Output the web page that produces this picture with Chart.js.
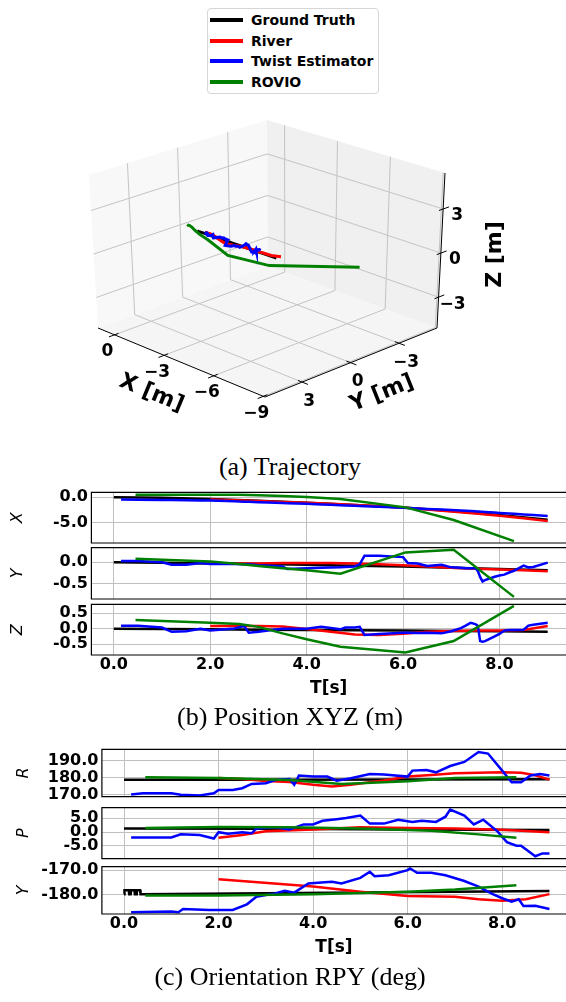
<!DOCTYPE html>
<html>
<head>
<meta charset="utf-8">
<script src="https://cdn.jsdelivr.net/npm/chart.js@4.4.1/dist/chart.umd.min.js"></script>
<style>
  body { margin: 0; background: #fff; width: 566px; height: 1002px; position: relative; overflow: hidden; }
  canvas { position: absolute; left: 0; }
  .cap { position: absolute; left: 0; width: 580px; text-align: center; font: 26px "Liberation Serif", serif; line-height: 30px; }
  #legend { position: absolute; left: 207px; top: 8px; width: 172px; height: 86px; border: 1px solid #d6d6d6; border-radius: 4px; box-sizing: border-box; }
  .row { position: absolute; left: 0; height: 20px; font: bold 14px "DejaVu Sans", sans-serif; line-height: 20px; }
  .row i { position: absolute; left: 2px; top: 8px; width: 33px; height: 4px; }
  .row span { position: absolute; left: 43px; white-space: nowrap; }
</style>
</head>
<body>
<div id="legend"></div>
<canvas id="traj" width="566" height="345" style="top:95px"></canvas>
<div class="cap" style="top:452px">(a) Trajectory</div>
<canvas id="pX" width="566" height="59" style="top:488px"></canvas>
<canvas id="pY" width="566" height="59" style="top:544px"></canvas>
<canvas id="pZ" width="566" height="100" style="top:600px"></canvas>
<div class="cap" style="top:702px">(b) Position XYZ (m)</div>
<canvas id="oR" width="566" height="56" style="top:745px"></canvas>
<canvas id="oP" width="566" height="57" style="top:803px"></canvas>
<canvas id="oY" width="566" height="97" style="top:862px"></canvas>
<div class="cap" style="top:962px">(c) Orientation RPY (deg)</div>
<script>
const SERIES = ['Ground Truth', 'River', 'Twist Estimator', 'ROVIO'];
const COLORS = ['#000000', '#ff0000', '#0000ff', '#008000'];
const T_TICKS = [0, 2, 4, 6, 8];

// position, one time base per method
const T_GT = [0, 1, 2, 3, 4, 5, 6, 7, 8, 9];
const X_GT = [0, -0.1, -0.35, -0.7, -1.1, -1.55, -2.05, -2.7, -3.5, -4.45];
const Y_GT = [0, -0.01, -0.03, -0.04, -0.06, -0.08, -0.1, -0.13, -0.16, -0.19];
const Z_GT = [0, -0.01, -0.02, -0.03, -0.04, -0.05, -0.06, -0.07, -0.08, -0.1];

const T_RV = [2, 2.5, 3, 3.5, 4, 4.5, 5, 5.5, 6, 6.5, 7, 7.5, 8, 8.5, 9];
const X_RV = [-0.45, -0.6, -0.75, -0.92, -1.1, -1.3, -1.52, -1.78, -2.05, -2.4, -2.8, -3.2, -3.65, -4.15, -4.7];
const Y_RV = [-0.03, -0.03, -0.03, -0.02, -0.02, -0.02, -0.03, -0.05, -0.07, -0.1, -0.13, -0.15, -0.17, -0.19, -0.21];
const Z_RV = [0.09, 0.09, 0.09, 0.07, -0.01, -0.1, -0.19, -0.2, -0.16, -0.1, -0.07, -0.06, -0.06, -0.04, 0.09];

const T_TW = [0.15, 0.5, 1.0, 1.2, 1.5, 1.8, 2.0, 2.5, 2.7, 2.8, 3.0, 3.2, 3.5, 3.6, 4.0, 4.3, 4.5, 4.7, 4.8, 5.0,
  5.1, 5.2, 5.5, 6.0, 6.1, 6.3, 6.5, 6.8, 7.0, 7.2, 7.3, 7.4, 7.5, 7.55, 7.6, 7.65, 7.7, 7.9, 8.0, 8.1,
  8.2, 8.3, 8.5, 8.6, 8.7, 9.0];
const X_TW = [-0.46, -0.49, -0.53, -0.55, -0.58, -0.63, -0.66, -0.8, -0.87, -0.9, -0.97, -1.03, -1.13, -1.17, -1.3,
  -1.42, -1.5, -1.58, -1.62, -1.7, -1.74, -1.78, -1.9, -2.1, -2.14, -2.22, -2.3, -2.42, -2.5, -2.6,
  -2.66, -2.72, -2.78, -2.8, -2.84, -2.86, -2.9, -3.02, -3.1, -3.16, -3.22, -3.28, -3.4, -3.46, -3.52, -3.7];
const Y_TW = [0.03, 0.03, 0, -0.06, -0.06, -0.02, -0.04, -0.04, -0.05, -0.05, -0.07, -0.08, -0.1, -0.16, -0.14,
  -0.13, -0.125, -0.12, -0.11, -0.1, -0.05, 0.15, 0.15, 0.12, -0.02, -0.03, -0.09, -0.06, -0.12, -0.13,
  -0.14, -0.14, -0.14, -0.2, -0.35, -0.45, -0.42, -0.34, -0.31, -0.29, -0.24, -0.2, -0.08, -0.12, -0.11, -0.01];
const Z_TW = [0.1, 0.1, 0.04, -0.1, -0.08, 0, -0.06, 0.01, 0.09, -0.13, -0.1, -0.06, 0, 0, 0,
  0.06, 0.02, -0.02, 0.04, 0.04, 0.06, -0.2, -0.17, -0.13, -0.13, -0.14, -0.13, -0.15, -0.08, 0.02,
  0.1, 0.19, 0.15, 0.1, -0.4, -0.42, -0.4, -0.25, -0.17, -0.06, -0.04, -0.04, -0.03, 0.1, 0.13, 0.19];

const T_RO = [0.45, 2.0, 2.6, 3.0, 3.5, 4.0, 4.7, 6.05, 7.05, 8.3];
const X_RO = [0.5, 0.5, 0.48, 0.4, 0.25, 0.05, -0.35, -2.0, -4.5, -8.7];
const Y_RO = [0.08, 0.02, -0.044, -0.087, -0.14, -0.19, -0.27, 0.23, 0.29, -0.81];
const Z_RO = [0.28, 0.19, 0.15, 0.06, -0.15, -0.34, -0.58, -0.77, -0.4, 0.74];

// orientation (deg)
const T_R_GT = [0, 3, 6, 9];            const R_GT = [179.0, 179.0, 179.1, 179.3];
const T_R_RV = [2, 2.5, 3, 3.5, 4, 4.4, 4.8, 5.2, 5.5, 6, 6.5, 7, 7.5, 8, 8.4, 8.7, 9];
const R_RV = [180, 179.4, 178.2, 177.6, 176, 175, 176, 177.5, 178.5, 180.8, 181.7, 182.7, 183, 183.3, 183, 181.6, 179];
const T_R_TW = [0.15, 0.4, 1.0, 1.2, 1.6, 1.9, 2.0, 2.3, 2.5, 2.7, 3.0, 3.2, 3.5, 3.6, 3.7, 4.0, 4.3, 4.5,
  4.8, 5.2, 5.5, 6.0, 6.1, 6.4, 6.6, 6.9, 7.2, 7.5, 7.7, 8.0, 8.2, 8.4, 8.6, 8.8, 9.0];
const R_TW = [170.3, 171, 171, 170.1, 169.7, 171, 173, 173, 174, 176.5, 176.9, 178.8, 179.4, 176, 181.4, 180.8, 180.8, 178.4,
  179.8, 182.3, 182, 180.8, 184.3, 184.7, 183.3, 187, 189.4, 195.2, 194.3, 184.3, 177.5, 177.5, 181.4, 182.3, 181.4];
const T_R_RO = [0.45, 2.0, 3.5, 4.6, 6.0, 7.0, 8.3];  const R_RO = [180.4, 180, 178.8, 176.5, 178, 180, 180.4];

const T_P_GT = [0, 3, 6, 9];            const P_GT = [1.3, 1.2, 1.0, 0.8];
const T_P_RV = [2, 2.5, 3, 4, 5, 6, 7, 8, 9];  const P_RV = [-2.0, -1.0, 0.3, 1.0, 1.8, 1.5, 1.3, 0.9, 0.0];
const T_P_TW = [0.15, 1.0, 1.2, 1.6, 1.9, 2.0, 2.2, 2.5, 2.7, 2.8, 3.2, 3.5, 3.8, 4.0, 4.2, 4.5, 4.7, 5.0,
  5.2, 5.5, 5.8, 6.1, 6.3, 6.6, 6.8, 6.9, 7.2, 7.4, 7.6, 7.9, 8.1, 8.3, 8.4, 8.7, 8.85, 9.0];
const P_TW = [-1.9, -1.9, -0.8, -1.0, -2.3, 0, -0.6, 0, -0.4, 1.3, 1.8, 1.0, 2.8, 2.8, 4.1, 4.7, 5.1, 6.0,
  3.1, 3.1, 4.5, 3.7, 4.1, 3.7, 5.6, 8.2, 6.0, 2.8, 4.5, 0.3, -3.6, -4.9, -4.9, -8.7, -7.7, -7.7];
const T_P_RO = [0.45, 2, 3.5, 5, 6.5, 7.5, 8.3];  const P_RO = [1.5, 1.9, 1.8, 1.3, 0.5, -0.8, -2.0];

const T_Y_GT = [0, 0.01, 0.1, 0.11, 0.14, 0.15, 0.22, 0.23, 0.26, 0.27, 0.34, 0.35, 9];
const YAW_GT = [-180, -178.3, -178.3, -180, -180, -178.3, -178.3, -180, -180, -178.3, -178.3, -180, -178.6];
const T_Y_RV = [2, 4, 5, 6, 7, 7.5, 8, 8.5, 9];
const YAW_RV = [-173.8, -176.8, -178.9, -180.7, -181, -182, -182.6, -182, -179.9];
const T_Y_TW = [0.15, 1.0, 1.15, 1.25, 1.8, 2.3, 2.6, 2.8, 3.2, 3.4, 3.6, 3.9, 4.1, 4.4, 4.6, 5.0, 5.2, 5.3,
  5.6, 6.0, 6.05, 6.2, 6.5, 6.8, 7.2, 7.5, 7.8, 8.0, 8.2, 8.35, 8.45, 8.7, 9.0];
const YAW_TW = [-187.4, -187.1, -187.4, -186, -186.4, -186.4, -184.1, -181, -179.6, -178.5, -179.3, -175.5, -175.2, -174.8,
  -175.5, -173.2, -170.7, -172.5, -172.1, -170, -169.3, -171.1, -171.1, -172.1, -174.5, -176.8, -179.9, -181.6,
  -183, -182, -184.8, -184.7, -186];
const T_Y_RO = [0.45, 2, 4, 6, 7, 8.3];  const YAW_RO = [-180.5, -180.5, -180, -178.9, -178, -176.2];

// 3D axes
const LIM_X = [1.0, -9.1], LIM_Y = [5.3, -5.35], LIM_Z = [-5.1, 5.45];
const TICKS3_X = [0, -3, -6, -9], TICKS3_Y = [3, 0, -3], TICKS3_Z = [-3, 0, 3];
// page position of the 8 box corners (u: x-limit index, v: y-limit index, w: z-limit index)
const CORNER = {
  '000': [98, 328], '100': [265, 397], '110': [437, 328], '010': [268, 266],
  '001': [89, 175], '101': [266, 234], '111': [445, 173], '011': [267, 120]
};

function proj(X, Y, Z) {
  const u = (X - LIM_X[0]) / (LIM_X[1] - LIM_X[0]);
  const v = (Y - LIM_Y[0]) / (LIM_Y[1] - LIM_Y[0]);
  const w = (Z - LIM_Z[0]) / (LIM_Z[1] - LIM_Z[0]);
  let x = 0, y = 0;
  for (const k in CORNER) {
    const f = (k[0] === '1' ? u : 1 - u) * (k[1] === '1' ? v : 1 - v) * (k[2] === '1' ? w : 1 - w);
    x += f * CORNER[k][0];
    y += f * CORNER[k][1];
  }
  return { x, y };
}

Chart.defaults.font.family = "'DejaVu Sans', sans-serif";
Chart.defaults.color = '#000';

// legend
const leg = document.getElementById('legend');
SERIES.forEach((name, i) => {
  const r = document.createElement('div');
  r.className = 'row';
  r.style.top = (1 + 20.6 * i) + 'px';
  r.innerHTML = '<i style="background:' + COLORS[i] + '"></i><span>' + name + '</span>';
  leg.appendChild(r);
});

// 3D trajectory
const box3d = {
  id: 'box3d',
  beforeDatasetsDraw(c) {
    const g = c.ctx, sx = c.scales.x, sy = c.scales.y;
    const P = (X, Y, Z) => { const p = proj(X, Y, Z); return [sx.getPixelForValue(p.x), sy.getPixelForValue(p.y)]; };
    const [x0, x1] = LIM_X, [y0, y1] = LIM_Y, [z0, z1] = LIM_Z;
    const poly = (pts, fill) => {
      g.beginPath();
      pts.forEach((q, i) => { const p = P(...q); i ? g.lineTo(p[0], p[1]) : g.moveTo(p[0], p[1]); });
      g.closePath(); g.fillStyle = fill; g.fill();
    };
    const seg = (a, b, col, w) => {
      const p = P(...a), q = P(...b);
      g.beginPath(); g.moveTo(p[0], p[1]); g.lineTo(q[0], q[1]);
      g.strokeStyle = col; g.lineWidth = w; g.stroke();
    };
    const text = (s, x, y, ang, font) => {
      g.save(); g.translate(x, y); g.rotate(ang); g.font = font; g.fillStyle = '#000';
      g.textAlign = 'center'; g.textBaseline = 'middle'; g.fillText(s, 0, 0); g.restore();
    };
    g.save();
    poly([[x0, y0, z0], [x1, y0, z0], [x1, y1, z0], [x0, y1, z0]], '#f5f5f5');
    poly([[x0, y0, z0], [x0, y1, z0], [x0, y1, z1], [x0, y0, z1]], '#f8f8f8');
    poly([[x0, y1, z0], [x1, y1, z0], [x1, y1, z1], [x0, y1, z1]], '#f0f0f0');
    const gc = '#c4c4c4';
    TICKS3_X.forEach(t => { seg([t, y0, z0], [t, y1, z0], gc, 1); seg([t, y1, z0], [t, y1, z1], gc, 1); });
    TICKS3_Y.forEach(t => { seg([x0, t, z0], [x1, t, z0], gc, 1); seg([x0, t, z0], [x0, t, z1], gc, 1); });
    TICKS3_Z.forEach(t => { seg([x0, y0, t], [x0, y1, t], gc, 1); seg([x0, y1, t], [x1, y1, t], gc, 1); });
    seg([x0, y0, z0], [x1, y0, z0], '#000', 1);
    seg([x1, y0, z0], [x1, y1, z0], '#000', 1);
    seg([x1, y1, z0], [x1, y1, z1], '#000', 1);
    const f17 = "bold 17px 'DejaVu Sans'";
    TICKS3_X.forEach(t => {
      seg([t, y0 - 0.25, z0], [t, y0 + 0.35, z0], '#000', 1);
      const p = P(t, y0, z0); text(t === 0 ? '0' : '\u2212' + Math.abs(t), p[0] - 7, p[1] + 17, 0, f17);
    });
    TICKS3_Y.forEach(t => {
      seg([x1 + 0.25, t, z0], [x1 - 0.35, t, z0], '#000', 1);
      const p = P(x1, t, z0); text(t < 0 ? '\u2212' + Math.abs(t) : String(t), p[0] + 7, p[1] + 19, 0, f17);
    });
    TICKS3_Z.forEach(t => {
      seg([x1, y1 + 0.25, t], [x1, y1 - 0.35, t], '#000', 1);
      const p = P(x1, y1, t); text(t < 0 ? '\u2212' + Math.abs(t) : String(t), p[0] + 14, p[1] + 7, 0, f17);
    });
    const f22 = "bold 22px 'DejaVu Sans'";
    let a = P(x0, y0, z0), b = P(x1, y0, z0);
    text('X [m]', (a[0] + b[0]) / 2 - 30, (a[1] + b[1]) / 2 + 31, Math.atan2(b[1] - a[1], b[0] - a[0]), f22);
    a = P(x1, y0, z0); b = P(x1, y1, z0);
    text('Y [m]', (a[0] + b[0]) / 2 + 31, (a[1] + b[1]) / 2 + 31, Math.atan2(b[1] - a[1], b[0] - a[0]), f22);
    a = P(x1, y1, z0); b = P(x1, y1, z1);
    text('Z [m]', (a[0] + b[0]) / 2 + 54, (a[1] + b[1]) / 2 + 4, -Math.PI / 2, f22);
    g.restore();
  }
};

const traj = [[T_GT, X_GT, Y_GT, Z_GT], [T_RV, X_RV, Y_RV, Z_RV], [T_TW, X_TW, Y_TW, Z_TW], [T_RO, X_RO, Y_RO, Z_RO]];
new Chart(document.getElementById('traj'), {
  type: 'scatter',
  data: {
    datasets: traj.map((s, i) => ({
      label: SERIES[i],
      data: s[0].map((_, k) => proj(s[1][k], s[2][k], s[3][k])),
      borderColor: COLORS[i], borderWidth: 3, pointRadius: 0, showLine: true, tension: 0, order: 4 - i
    }))
  },
  options: {
    responsive: false, animation: false, devicePixelRatio: 1,
    layout: { padding: 0 },
    plugins: { legend: { display: false }, tooltip: { enabled: false } },
    scales: {
      x: { type: 'linear', display: false, min: 0, max: 566 },
      y: { type: 'linear', display: false, min: 95, max: 440, reverse: true }
    }
  },
  plugins: [box3d]
});

// 2D panels
const frame = {
  id: 'frame',
  afterDraw(c) {
    const a = c.chartArea, g = c.ctx;
    g.save(); g.strokeStyle = '#000'; g.lineWidth = 1.2;
    g.beginPath();
    g.moveTo(a.right + 2, a.top); g.lineTo(a.left, a.top); g.lineTo(a.left, a.bottom); g.lineTo(a.right + 2, a.bottom);
    g.stroke(); g.restore();
  }
};

function panel(id, o) {
  new Chart(document.getElementById(id), {
    type: 'scatter',
    data: {
      datasets: o.series.map((s, i) => ({
        label: SERIES[i],
        data: s[0].map((t, k) => ({ x: t, y: s[1][k] })),
        borderColor: COLORS[i], borderWidth: 2.5, pointRadius: 0, showLine: true, tension: 0, order: 4 - i
      }))
    },
    options: {
      responsive: false, animation: false, devicePixelRatio: 1,
      layout: { padding: { top: o.pt, bottom: o.pb, left: 0, right: 0 } },
      plugins: { legend: { display: false }, tooltip: { enabled: false } },
      scales: {
        x: {
          type: 'linear', min: o.xmin, max: o.xmax,
          afterBuildTicks: s => { s.ticks = T_TICKS.map(v => ({ value: v })); },
          afterFit: s => { s.height = o.last ? 45 : 0; s.paddingLeft = 0; s.paddingRight = 0; },
          grid: { color: '#c0c0c0', lineWidth: 1, drawTicks: false },
          border: { display: false },
          ticks: { display: !!o.last, autoSkip: false, maxRotation: 0, padding: 0, font: { size: 16, weight: 'bold' }, callback: v => v.toFixed(1) },
          title: { display: !!o.last, text: 'T[s]', font: { size: 17, weight: 'bold' }, padding: { top: 0, bottom: 0.8 } }
        },
        y: {
          type: 'linear', min: o.ymin, max: o.ymax,
          afterBuildTicks: s => { s.ticks = o.ticks.map(v => ({ value: v })); },
          afterFit: s => { s.width = o.left; s.paddingTop = 0; s.paddingBottom = 0; },
          grid: { color: '#c0c0c0', lineWidth: 1, drawTicks: false },
          border: { display: false },
          ticks: { autoSkip: false, padding: 3.5, font: { size: 16, weight: 'bold' }, callback: v => v.toFixed(1) },
          title: { display: true, text: o.name, font: { size: 16, style: 'italic' }, padding: { top: o.tp, bottom: 0 } }
        }
      }
    },
    plugins: [frame]
  });
}

const POS = { xmin: -0.465, xmax: 9.38, left: 91.4, tp: 8.4 };
panel('pX', Object.assign({}, POS, { name: 'X', ymin: -9.07, ymax: 0.99, ticks: [0, -5], pt: 4.3, pb: 4,
  series: [[T_GT, X_GT], [T_RV, X_RV], [T_TW, X_TW], [T_RO, X_RO]] }));
panel('pY', Object.assign({}, POS, { name: 'Y', ymin: -0.86, ymax: 0.34, ticks: [0, -0.5], pt: 3.7, pb: 4,
  series: [[T_GT, Y_GT], [T_RV, Y_RV], [T_TW, Y_TW], [T_RO, Y_RO]] }));
panel('pZ', Object.assign({}, POS, { name: 'Z', ymin: -0.85, ymax: 0.79, ticks: [0.5, 0, -0.5], pt: 4.3, pb: 0, last: true,
  series: [[T_GT, Z_GT], [T_RV, Z_RV], [T_TW, Z_TW], [T_RO, Z_RO]] }));

const ORI = { xmin: -0.468, xmax: 9.35, left: 101.9, tp: 13.9 };
panel('oR', Object.assign({}, ORI, { name: 'R', ymin: 169, ymax: 196.8, ticks: [190, 180, 170], pt: 4.3, pb: 4.3,
  series: [[T_R_GT, R_GT], [T_R_RV, R_RV], [T_R_TW, R_TW], [T_R_RO, R_RO]] }));
panel('oP', Object.assign({}, ORI, { name: 'P', ymin: -9.6, ymax: 8.85, ticks: [5, 0, -5], pt: 4.7, pb: 1.3,
  series: [[T_P_GT, P_GT], [T_P_RV, P_RV], [T_P_TW, P_TW], [T_P_RO, P_RO]] }));
panel('oY', Object.assign({}, ORI, { name: 'Y', ymin: -188.1, ymax: -168.6, ticks: [-170, -180], pt: 4.7, pb: 0, last: true,
  series: [[T_Y_GT, YAW_GT], [T_Y_RV, YAW_RV], [T_Y_TW, YAW_TW], [T_Y_RO, YAW_RO]] }));
</script>
</body>
</html>
